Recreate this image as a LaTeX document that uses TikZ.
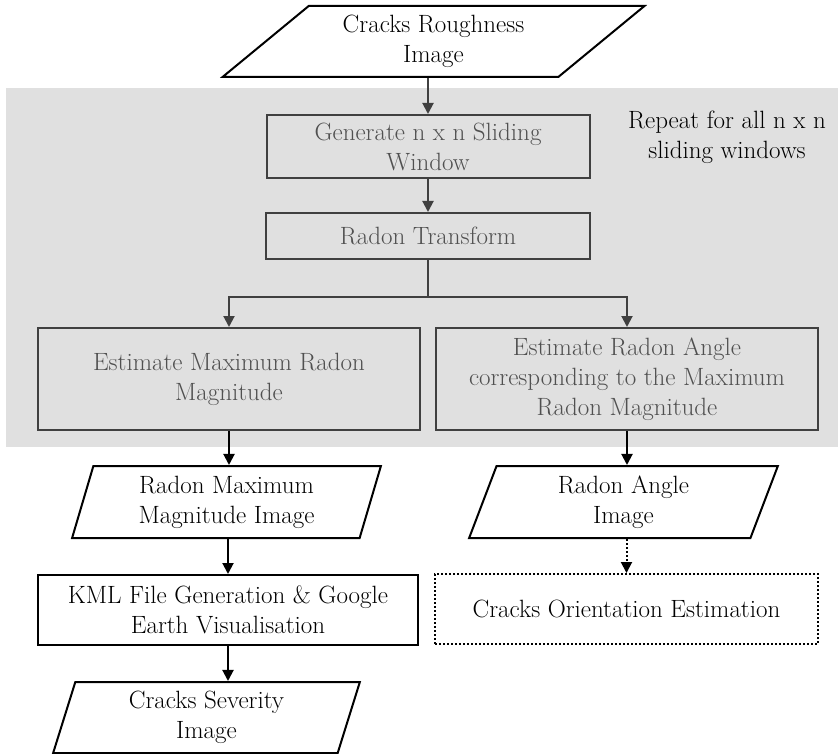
\documentclass[tikz,border=0pt]{standalone}
\usepackage{fontspec}
\usetikzlibrary{shapes.geometric,arrows.meta}
\definecolor{panelgray}{HTML}{E0E0E0}
\definecolor{inkgray}{HTML}{404040}
\definecolor{txtgray}{HTML}{505050}
\begin{document}
\begin{tikzpicture}[x=1pt,y=-1pt,
  every node/.style={font=\fontsize{25}{30}\selectfont, align=center, inner sep=0pt},
  proc/.style={draw, line width=2pt, rectangle},
  inproc/.style={proc, draw=inkgray, text=txtgray},
  io/.style={draw, line width=2pt, trapezium, trapezium stretches=true,
    trapezium left angle=#1, trapezium right angle=180-#1},
  arr/.style={line width=2pt, -{Triangle[length=11pt,width=11pt]}},
  inarr/.style={arr, draw=inkgray, inkgray}]
  \useasboundingbox (0,0) rectangle (838,754);
  \fill[panelgray] (6,88) rectangle (838,447);
  % input
  \node[io=40, minimum width=423, minimum height=71] (rough) at (433.5,41.5) {Cracks Roughness\\Image};
  % loop over the windows
  \node[inproc, minimum width=323, minimum height=63] (win) at (428,146.5) {Generate n x n Sliding\\Window};
  \node[inproc, minimum width=324, minimum height=46] (radon) at (428,236) {Radon Transform};
  \node[inproc, minimum width=382, minimum height=102] (maxmag) at (229,379) {Estimate Maximum Radon\\Magnitude};
  \node[inproc, minimum width=382, minimum height=102] (angle) at (627,379) {Estimate Radon Angle\\corresponding to the Maximum\\Radon Magnitude};
  \node (rep) at (727,137) {Repeat for all n x n\\sliding windows};
  % outputs
  \node[io=75, minimum width=309, minimum height=72] (magimg) at (226.5,502) {Radon Maximum\\Magnitude Image};
  \node[io=75, minimum width=309, minimum height=72] (angimg) at (623.5,502) {Radon Angle\\Image};
  \node[proc, minimum width=380, minimum height=70] (kml) at (228,610) {KML File Generation \& Google\\Earth Visualisation};
  \node[draw, dotted, line width=2pt, minimum width=383, minimum height=70] (orient) at (626.5,609) {Cracks Orientation Estimation};
  \node[io=76, minimum width=307, minimum height=71] (sev) at (206.5,717.5) {Cracks Severity\\Image};
  \coordinate (split) at (428,297);
  \draw[inarr] (rough.south -| win.north) -- (win.north);
  \draw[inarr] (win.south) -- (radon.north);
  \draw[line width=2pt, inkgray] (radon.south) -- (split);
  \draw[inarr] (split) -| (maxmag.north);
  \draw[inarr] (split) -| (angle.north);
  \draw[arr] (maxmag.south) -- (maxmag.south |- magimg.north);
  \draw[arr] (angle.south) -- (angle.south |- angimg.north);
  \draw[arr] (magimg.south -| kml.north) -- (kml.north);
  \draw[arr] (kml.south) -- (kml.south |- sev.north);
  \draw[arr, dotted] (angimg.south -| orient.north) -- (orient.north);
\end{tikzpicture}
\end{document}
